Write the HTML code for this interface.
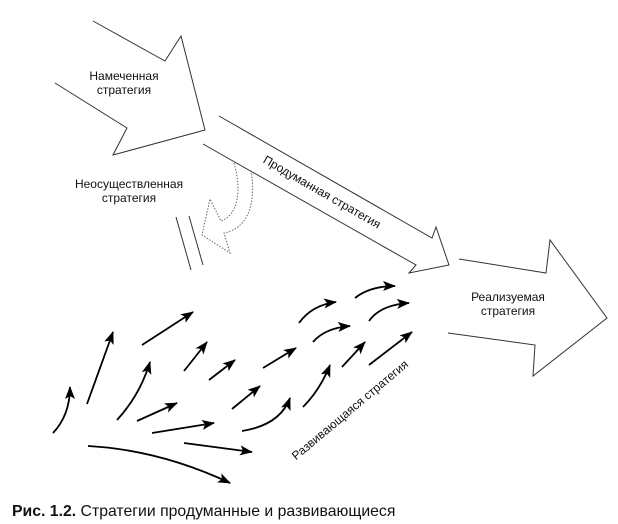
<!DOCTYPE html>
<html><head><meta charset="utf-8"><style>
html,body{margin:0;padding:0;background:#fff;}
svg{display:block;}
text{font-family:"Liberation Sans","DejaVu Sans",sans-serif;fill:#111;}
</style></head><body>
<svg width="618" height="524" viewBox="0 0 618 524" xmlns="http://www.w3.org/2000/svg">
<defs>
<marker id="a" markerUnits="userSpaceOnUse" markerWidth="14" markerHeight="12" refX="12" refY="5" orient="auto">
<path d="M0,0 L13,5 L0,10 L3,5 z" fill="#000"/>
</marker>
</defs>
<polyline points="93,21 165,61 181,36 205,130 113,155 127,128 55,83" fill="none" stroke="#333" stroke-width="1"/>
<text x="124" y="80" font-size="12" text-anchor="middle">Намеченная</text>
<text x="124" y="94" font-size="12" text-anchor="middle">стратегия</text>
<polyline points="219,116 432,238 436,227 449,265 409,273 416,265 203,144" fill="none" stroke="#333" stroke-width="1"/>
<text x="322" y="196" font-size="12" text-anchor="middle" transform="rotate(30 322 192)" fill="#123">Продуманная стратегия</text>
<path d="M234,163 C242,190 238,215 221,221 L210,199 L202,235 L230,253 L224,233 C250,228 256,200 251,170" fill="none" stroke="#666" stroke-width="1" stroke-dasharray="1.5,1.5"/>
<line x1="176" y1="217" x2="191" y2="270" stroke="#333" stroke-width="1"/>
<line x1="189" y1="216" x2="203" y2="265" stroke="#333" stroke-width="1"/>
<text x="129" y="188" font-size="12" text-anchor="middle">Неосуществленная</text>
<text x="129" y="202" font-size="12" text-anchor="middle">стратегия</text>
<polyline points="459,259 546,273 550,240 607,318 533,376 535,345 448,333" fill="none" stroke="#333" stroke-width="1"/>
<text x="508" y="301" font-size="12" text-anchor="middle">Реализуемая</text>
<text x="508" y="315" font-size="12" text-anchor="middle">стратегия</text>
<g fill="none" stroke="#000" stroke-width="1.8" marker-end="url(#a)">
<path d="M53,433 Q70,415 70,387"/>
<path d="M87,404 L113,332"/>
<path d="M142,345 L193,312"/>
<path d="M117,420 Q140,395 150,362"/>
<path d="M137,421 L177,403"/>
<path d="M184,371 L207,342"/>
<path d="M209,380 L235,360"/>
<path d="M152,433 L214,423"/>
<path d="M184,443 L252,452"/>
<path d="M88,446 Q160,450 230,483"/>
<path d="M232,409 L260,386"/>
<path d="M263,368 L296,348"/>
<path d="M242,431 Q280,425 290,398"/>
<path d="M299,323 Q312,305 336,302"/>
<path d="M313,342 Q325,328 350,326"/>
<path d="M303,407 Q320,390 330,365"/>
<path d="M342,367 L365,342"/>
<path d="M355,298 Q370,286 395,286"/>
<path d="M369,321 Q380,305 409,303"/>
<path d="M369,365 L412,332"/>
</g>
<text x="350" y="414" font-size="12" text-anchor="middle" transform="rotate(-40 350 410)" fill="#123">Развивающаяся стратегия</text>
<text x="12" y="516" font-size="15.8"><tspan font-weight="bold">Рис. 1.2.</tspan> Стратегии продуманные и развивающиеся</text>
</svg>
</body></html>
